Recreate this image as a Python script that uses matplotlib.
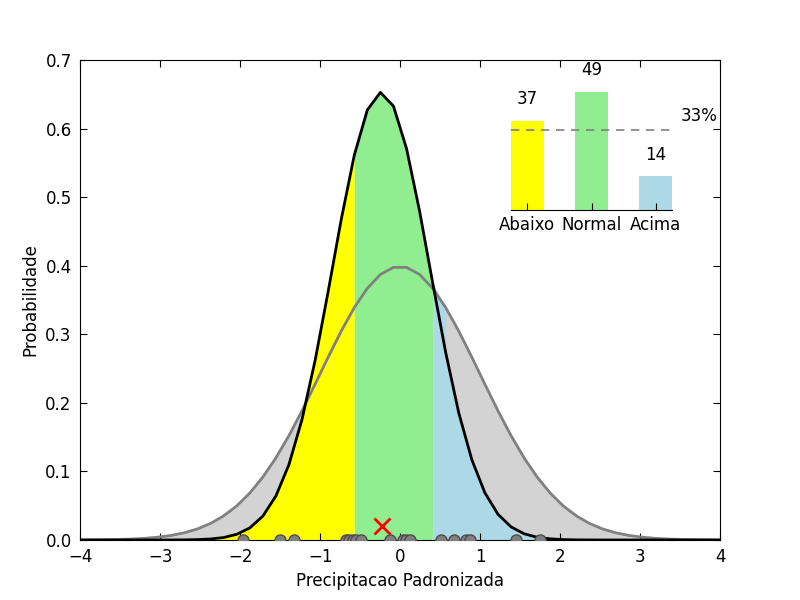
import numpy as np
import matplotlib
matplotlib.use("Agg")
import matplotlib.pyplot as plt

# grid of the curves (50 points from -4 to 4)
x_grid = np.linspace(-4, 4, 50)

# climatological (standard normal) curve, read at each grid point (left half mirrored)
clim_half = [0.0001, 0.0003, 0.0005, 0.0008, 0.0015, 0.0025, 0.0042, 0.0067, 0.0106,
             0.0162, 0.0242, 0.0352, 0.0497, 0.0685, 0.0918, 0.1198, 0.1523, 0.1885,
             0.2272, 0.2666, 0.3046, 0.3389, 0.3671, 0.3872, 0.3976]
clim_pdf = np.array(clim_half + clim_half[::-1])

# forecast curve, read at each grid point
fcst_pdf = np.array([
    0.0, 0.0, 0.0, 0.0, 0.0, 0.0, 0.0, 0.0001, 0.0002, 0.0006,
    0.0015, 0.0036, 0.0083, 0.0176, 0.0348, 0.0642, 0.1101, 0.1759, 0.2617, 0.3624,
    0.4673, 0.5611, 0.6272, 0.6528, 0.6327, 0.5709, 0.4796, 0.3752, 0.2733, 0.1853,
    0.1170, 0.0688, 0.0376, 0.0192, 0.0091, 0.0040, 0.0017, 0.0006, 0.0002, 0.0001,
    0.0, 0.0, 0.0, 0.0, 0.0, 0.0, 0.0, 0.0, 0.0, 0.0])

lower_edge = -0.5714
upper_edge = 0.4082

# observed standardized values
obs = [-1.96, -1.50, -1.33, -0.68, -0.64, -0.59, -0.55, -0.49, -0.13, 0.04,
       0.075, 0.12, 0.51, 0.67, 0.83, 0.87, 1.45, 1.75]
forecast_x, forecast_y = -0.23, 0.02

categories = ["Abaixo", "Normal", "Acima"]
cat_values = [37, 49, 14]
cat_colors = ["yellow", "lightgreen", "lightblue"]
clim_pct = 33

plt.rcParams['font.family'] = ['DejaVu Sans']
fig = plt.figure(figsize=(8, 6), dpi=100)
fig.patch.set_facecolor('white')
ax = fig.add_axes([0.1, 0.1, 0.8, 0.8])

x = x_grid
tol = 0.01
below = x <= lower_edge + tol
middle = (x >= lower_edge - tol) & (x <= upper_edge + tol)
above = x >= upper_edge - tol
# colored areas under forecast curve
ax.fill_between(x, 0, fcst_pdf, where=below, color='yellow', lw=0)
ax.fill_between(x, 0, fcst_pdf, where=middle, color='lightgreen', lw=0)
ax.fill_between(x, 0, np.maximum(fcst_pdf, clim_pdf), where=above,
                color='lightblue', lw=0)
# grey between curves
ax.fill_between(x, fcst_pdf, clim_pdf, where=(clim_pdf >= fcst_pdf) & (x < 0),
                interpolate=True, color='lightgray', lw=0)
ax.fill_between(x, fcst_pdf, clim_pdf, where=(clim_pdf >= fcst_pdf) & (x > 0),
                color='lightgray', lw=0)

ax.plot(x, clim_pdf, color='gray', lw=2)
ax.plot(x, fcst_pdf, color='black', lw=2)

ax.plot(obs, np.zeros(len(obs)), 'o', color='gray', mec='0.3', ms=8, mew=1, zorder=5)
ax.plot([forecast_x], [forecast_y], 'x', color='red', ms=11, mew=2, zorder=6)

ax.set_xlim(-4, 4)
ax.set_ylim(0, 0.7)
ax.set_xticks(np.arange(-4, 5, 1))
ax.set_yticks(np.arange(0, 0.71, 0.1))
ax.set_yticklabels([f"{v:.1f}" for v in np.arange(0, 0.71, 0.1)])
ax.set_xticklabels(["\u22124", "\u22123", "\u22122", "\u22121", "0", "1", "2", "3", "4"])
ax.tick_params(direction='in', top=True, right=True, length=5, labelsize=12, pad=6)
ax.set_xlabel("Precipitacao Padronizada", fontsize=12)
ax.set_ylabel("Probabilidade", fontsize=12)

# inset bar chart
ymax_in = 60
iax = fig.add_axes([511 / 800, 390 / 600, 161 / 800, 144.6 / 600])
iax.patch.set_alpha(0)
pos = np.arange(len(categories))
iax.bar(pos, cat_values, width=0.52, color=cat_colors, lw=0)
for p, v in zip(pos, cat_values):
    iax.text(p, v + 9, f"{v}", ha='center', va='center', fontsize=12)
iax.plot([-0.25, 2.25], [clim_pct, clim_pct], ls='--', color='gray', lw=1.2, dashes=(5, 4))
iax.text(2.67, clim_pct + 6, f"{clim_pct}%", ha='center', va='center', fontsize=12)
iax.set_xlim(-0.25, 2.25)
iax.set_ylim(0, ymax_in)
for s in ['left', 'right', 'top']:
    iax.spines[s].set_visible(False)
iax.set_yticks([])
iax.set_xticks(pos)
iax.set_xticklabels(categories, fontsize=12)
iax.tick_params(axis='x', direction='in', length=5, top=False, pad=4)

fig.savefig("out.png", dpi=100, facecolor='white')
